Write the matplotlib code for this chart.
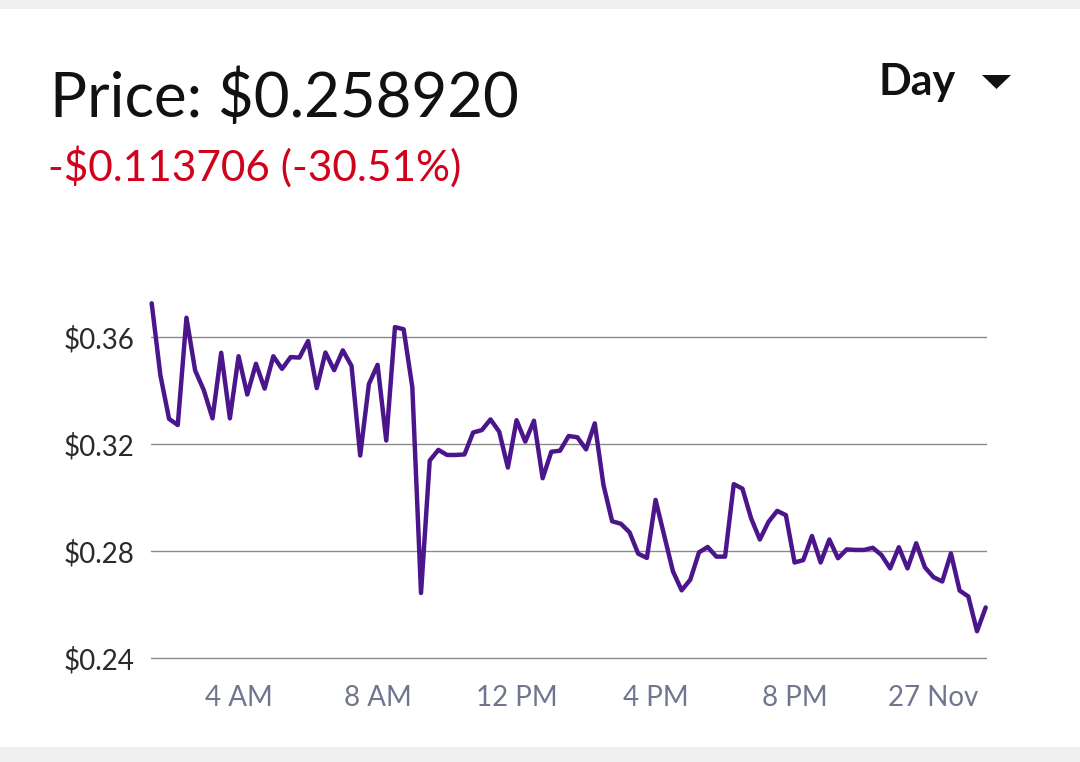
import matplotlib
matplotlib.use("Agg")
import matplotlib.pyplot as plt
import matplotlib.dates as mdates
from matplotlib.patches import Rectangle, Polygon
import pandas as pd

# ---- data ----
start_time = "2019-11-26 01:30"
n_points = 97
prices = [
    0.3726, 0.3457, 0.3294, 0.3271, 0.3672, 0.3475, 0.3401, 0.3296, 0.3541, 0.3296,
    0.3528, 0.3385, 0.3500, 0.3407, 0.3528, 0.3481, 0.3525, 0.3523, 0.3585, 0.3409,
    0.3542, 0.3476, 0.3550, 0.3492, 0.3157, 0.3424, 0.3496, 0.3213, 0.3637, 0.3629,
    0.3412, 0.2643, 0.3138, 0.3178, 0.3159, 0.3159, 0.3161, 0.3243, 0.3252, 0.3292,
    0.3246, 0.3112, 0.3289, 0.3209, 0.3287, 0.3072, 0.3171, 0.3175, 0.3230, 0.3225,
    0.3180, 0.3277, 0.3047, 0.2911, 0.2902, 0.2870, 0.2790, 0.2774, 0.2991, 0.2857,
    0.2724, 0.2653, 0.2693, 0.2795, 0.2815, 0.2779, 0.2779, 0.3050, 0.3033, 0.2922,
    0.2843, 0.2909, 0.2950, 0.2934, 0.2757, 0.2766, 0.2856, 0.2757, 0.2843, 0.2773,
    0.2806, 0.2804, 0.2804, 0.2812, 0.2785, 0.2735, 0.2814, 0.2735, 0.2829, 0.2739,
    0.2702, 0.2686, 0.2791, 0.2652, 0.2630, 0.2500, 0.2589,
]
y_ticks = [0.24, 0.28, 0.32, 0.36]
y_tick_labels = ["$0.24", "$0.28", "$0.32", "$0.36"]
x_tick_times = ["2019-11-26 04:00", "2019-11-26 08:00", "2019-11-26 12:00",
                "2019-11-26 16:00", "2019-11-26 20:00", "2019-11-27 00:00"]
x_tick_labels = ["4 AM", "8 AM", "12 PM", "4 PM", "8 PM", "27 Nov"]
title_text = "Price: $0.258920"
change_text = "-$0.113706 (-30.51%)"
period_text = "Day"

times = pd.date_range(start_time, periods=n_points, freq="15min")

W, H = 1080, 762
fig = plt.figure(figsize=(W / 100, H / 100), dpi=100, facecolor="#f0f0f0")

# white card
fig.patches.append(Rectangle((0, 1 - 747 / H), 1, (747 - 9) / H,
                             transform=fig.transFigure, facecolor="white",
                             edgecolor="none", zorder=-5))

# axes placement (pixels)
ax_left, ax_right, ax_top, ax_bottom = 151, 987, 295, 672
ax = fig.add_axes([ax_left / W, 1 - ax_bottom / H,
                   (ax_right - ax_left) / W, (ax_bottom - ax_top) / H])
ax.set_zorder(2)
ax.set_facecolor("none")
for s in ax.spines.values():
    s.set_visible(False)

for yv in y_ticks:
    ax.axhline(yv, color="#8a8a8a", lw=1.0, zorder=1)

tnum = mdates.date2num(times)
ax.plot(tnum, prices, color="#4b168c", lw=3.2, solid_joinstyle="round",
        solid_capstyle="round", zorder=3, clip_on=False)

px_per_hour = 34.75
x0 = tnum[0] - (0.7 / px_per_hour) / 24
x1 = tnum[0] + ((ax_right - 151.7) / px_per_hour) / 24
ax.set_xlim(x0, x1)
ax.set_ylim(0.36 - (ax_bottom - 337) / 2675, 0.36 + (337 - ax_top) / 2675)

ax.set_yticks(y_ticks)
ax.set_yticklabels(y_tick_labels, fontsize=20, fontfamily=["Lato", "DejaVu Sans"],
                   fontweight="normal", color="#2a2a2a")
ax.set_xticks(mdates.date2num(pd.to_datetime(x_tick_times)))
ax.set_xticklabels(x_tick_labels, fontsize=20, fontfamily=["Lato", "DejaVu Sans"],
                   fontweight="normal", color="#717690")
ax.tick_params(axis="y", length=0, pad=12)
ax.tick_params(axis="x", length=0, pad=9)

# header texts
fig.text(50 / W, 1 - 117 / H, title_text, fontsize=44.5, fontfamily=["Lato", "DejaVu Sans"],
         color="#111111", va="baseline", ha="left")
fig.text(48 / W, 1 - 181 / H, change_text, fontsize=30.5, fontfamily=["Lato", "DejaVu Sans"],
         color="#d0011b", va="baseline", ha="left")
fig.text(878 / W, 1 - 95 / H, period_text, fontsize=31, fontfamily=["Lato", "DejaVu Sans"],
         fontweight="bold", color="#111111", va="baseline", ha="left")
fig.patches.append(Polygon([(982 / W, 1 - 75 / H), (1011 / W, 1 - 75 / H),
                            (996.5 / W, 1 - 89 / H)], closed=True,
                           transform=fig.transFigure, facecolor="#111111",
                           edgecolor="none"))

fig.savefig("out.png", dpi=100, facecolor=fig.get_facecolor())
